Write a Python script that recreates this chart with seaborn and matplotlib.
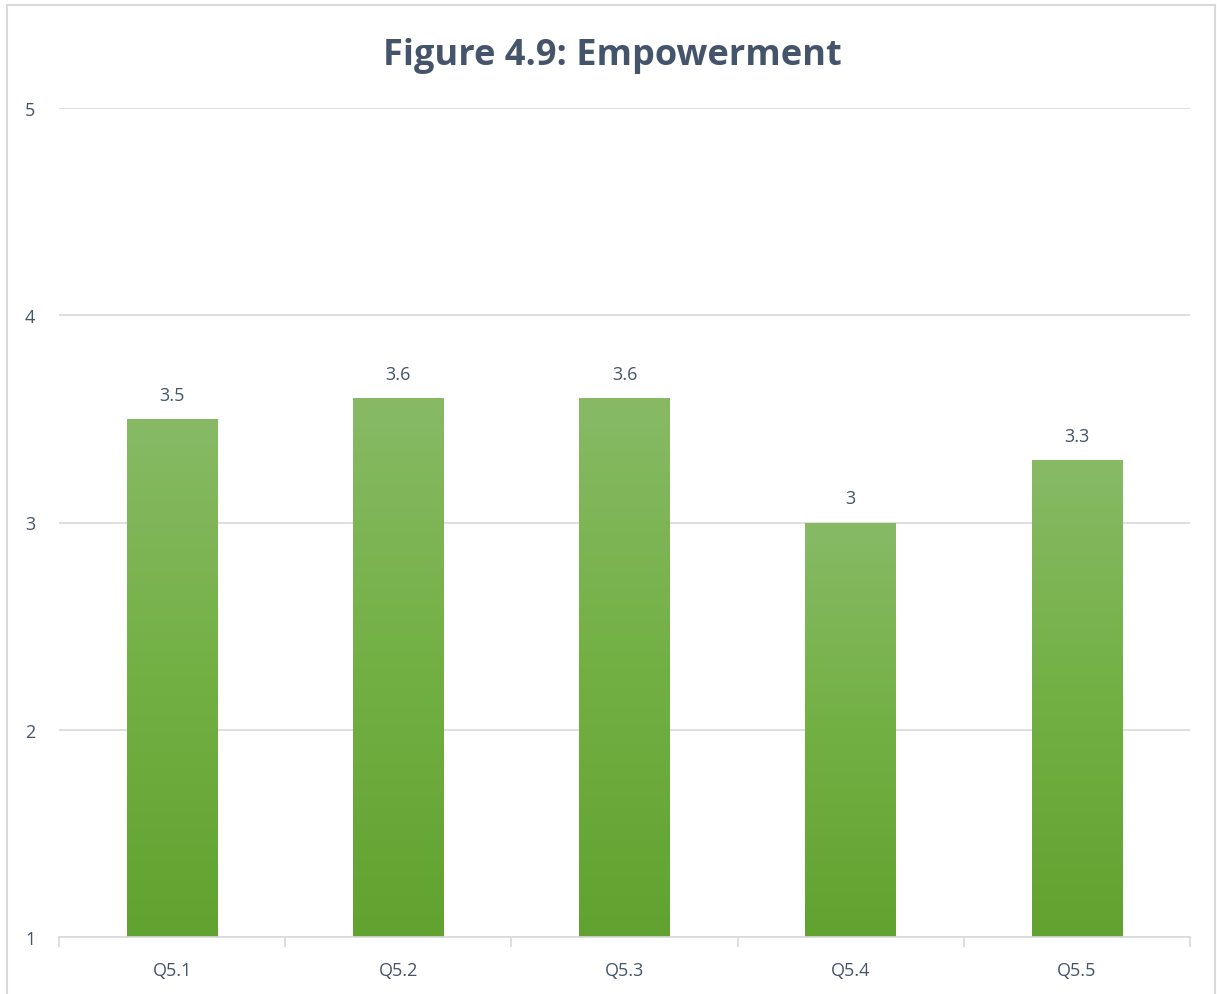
import numpy as np
import pandas as pd
import matplotlib
matplotlib.use("Agg")
import matplotlib.pyplot as plt
import seaborn as sns
from matplotlib.colors import LinearSegmentedColormap
from matplotlib.patches import Rectangle

categories = ["Q5.1", "Q5.2", "Q5.3", "Q5.4", "Q5.5"]
scores = [3.5, 3.6, 3.6, 3.0, 3.3]
value_labels = ["3.5", "3.6", "3.6", "3", "3.3"]
y_ticks = [1, 2, 3, 4, 5]

sns.set_theme(style="white")
plt.rcParams["font.family"] = ["Open Sans", "DejaVu Sans"]

text_color = "#44546a"
grid_color = "#d9d9d9"
base = 1.0

df = pd.DataFrame({"question": categories, "score": scores})

fig = plt.figure(figsize=(12.17, 9.95), dpi=100)
ax = fig.add_axes([59 / 1217, 57 / 995, (1190 - 59) / 1217, (938 - 109) / 995])

# bars measured from the axis floor at 1
df["height"] = df["score"] - base
sns.barplot(data=df, x="question", y="height", bottom=base, width=0.4,
            color="#70ad47", ax=ax, saturation=1)

# vertical gradient fill inside each bar
cmap = LinearSegmentedColormap.from_list("grn", ["#61a230", "#72b043", "#88ba66"])
grad = np.linspace(0, 1, 256).reshape(-1, 1)
for patch in ax.patches:
    x0, y0 = patch.get_x(), patch.get_y()
    w, h = patch.get_width(), patch.get_height()
    patch.set_facecolor("none")
    patch.set_edgecolor("none")
    im = ax.imshow(grad, cmap=cmap, aspect="auto", origin="lower",
                   extent=[x0, x0 + w, y0, y0 + h], zorder=2)
    im.set_clip_path(patch)

ax.set_xlim(-0.5, len(categories) - 0.5)
ax.set_ylim(1, 5)

for i, (v, lab) in enumerate(zip(scores, value_labels)):
    ax.annotate(lab, (i, v), xytext=(0, 11), textcoords="offset points",
                ha="center", va="bottom", fontsize=13, color=text_color)

ax.set_yticks(y_ticks)
ax.set_yticklabels([str(t) for t in y_ticks])
ax.yaxis.grid(True, color=grid_color, linewidth=1.2)
ax.set_axisbelow(True)
ax.tick_params(axis="y", length=0, pad=17, labelsize=13, labelcolor=text_color)

ax.set_xticks(np.arange(-0.5, len(categories), 1.0))
ax.set_xticklabels([])
ax.set_xticks(np.arange(len(categories)), minor=True)
ax.set_xticklabels(categories, minor=True)
ax.tick_params(axis="x", which="major", length=7, width=1.2, color=grid_color, direction="out")
ax.tick_params(axis="x", which="minor", length=0, pad=17, labelsize=13, labelcolor=text_color)
ax.tick_params(axis="x", bottom=True, which="both")

for s in ["top", "right", "left"]:
    ax.spines[s].set_visible(False)
ax.spines["bottom"].set_color(grid_color)
ax.spines["bottom"].set_linewidth(1.2)
ax.set_xlabel("")
ax.set_ylabel("")

fig.text(612 / 1217, 1 - 56 / 995, "Figure 4.9: Empowerment", ha="center", va="center",
         fontsize=26, fontweight="bold", color=text_color)

fig.patches.append(Rectangle((7 / 1217, -0.01), (1215 - 7) / 1217, 1 - 6 / 995 + 0.01,
                             transform=fig.transFigure, fill=False,
                             edgecolor=grid_color, linewidth=1.5))

fig.savefig("out.png", dpi=100)
